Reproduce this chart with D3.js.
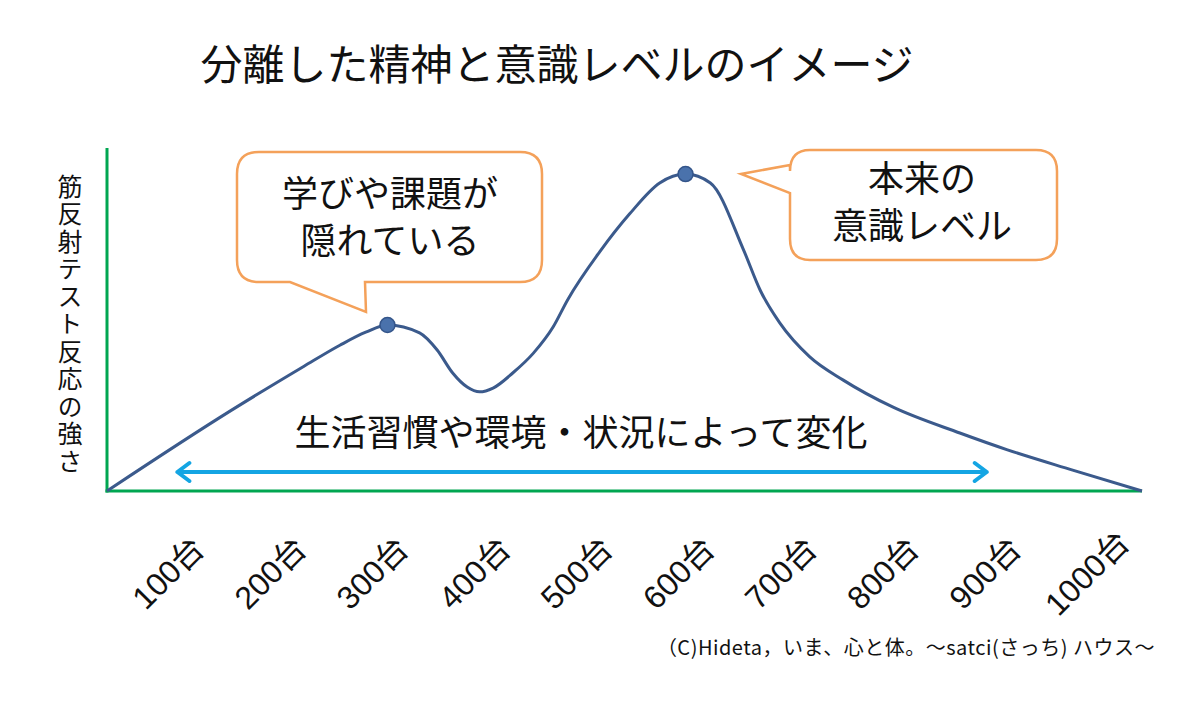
<html>
<head>
<meta charset="utf-8">
<script src="https://d3js.org/d3.v7.min.js"></script>
<style>
body { margin: 0; background: white; }
text { font-family: "Noto Sans CJK JP", "Noto Sans", sans-serif; fill: #111; }
</style>
</head>
<body>
<div id="chart"></div>
<script>

// categories along the bottom
var categories = ["100台","200台","300台","400台","500台","600台","700台","800台","900台","1000台"];

// the curve (x in 0..1000, y in 0..100)
var curveX = [0, 120, 190, 225, 250, 271, 302, 319, 334, 348, 360, 373, 392, 412, 431, 445, 476, 505, 534, 559, 583, 615, 631, 650, 679, 711, 759, 824, 870, 933, 1000];
var curveY = [0, 23.5, 36.3, 42.5, 46.3, 48.4, 46.1, 41.1, 34.4, 30.3, 28.9, 30.0, 34.4, 40.2, 47.8, 55.7, 69.7, 80.8, 89.8, 92.4, 89.8, 70.3, 58.6, 49.0, 39.1, 32.4, 24.5, 16.9, 12.0, 6.1, 0];

// the two marked points
var peakX = [271, 559];
var peakY = [48.4, 92.4];

// span of the double arrow
var arrowSpan = [68, 850];

var W = 1200, H = 711;

var svg = d3.select("#chart")
  .append("svg")
    .attr("width", W)
    .attr("height", H);

var x = d3.scaleLinear()
  .domain([0, 1000])
  .range([107, 1142]);

var y = d3.scaleLinear()
  .domain([0, 100])
  .range([491, 148]);

var xBand = d3.scaleBand()
  .domain(categories)
  .range([125, 1146]);

// title
svg.append("text")
    .attr("x", 557)
    .attr("y", 80)
    .attr("text-anchor", "middle")
    .style("font-size", "42px")
    .text("分離した精神と意識レベルのイメージ");

// y label (vertical)
svg.append("text")
    .attr("x", 70)
    .attr("y", 325)
    .attr("text-anchor", "middle")
    .style("writing-mode", "vertical-rl")
    .style("font-size", "25px")
    .style("letter-spacing", "2.5px")
    .text("筋反射テスト反応の強さ");

// axes (plain green lines)
svg.append("line")
    .attr("x1", x(0)).attr("x2", x(0))
    .attr("y1", y(0) + 1.5).attr("y2", y(100))
    .attr("stroke", "#00a651")
    .attr("stroke-width", 3);

svg.append("line")
    .attr("x1", x(0) - 1.5).attr("x2", x(1000))
    .attr("y1", y(0)).attr("y2", y(0))
    .attr("stroke", "#00a651")
    .attr("stroke-width", 3);

// rotated category labels
svg.append("g")
  .selectAll("text")
  .data(categories)
  .enter()
  .append("text")
    .attr("transform", function(d) {
      return "translate(" + (xBand(d) + xBand.bandwidth() / 2) + ",581) rotate(-45)";
    })
    .attr("text-anchor", "middle")
    .style("font-family", "'Liberation Sans', 'Noto Sans CJK JP', sans-serif")
    .style("font-size", "32px")
    .text(function(d) { return d; });

// the double arrow
var ay = 472;
var a0 = x(arrowSpan[0]), a1 = x(arrowSpan[1]);
svg.append("path")
    .attr("d", "M" + a0 + "," + ay + "H" + a1 +
               "M" + (a0 + 12) + "," + (ay - 9) + "L" + a0 + "," + ay + "L" + (a0 + 12) + "," + (ay + 9) +
               "M" + (a1 - 12) + "," + (ay - 9) + "L" + a1 + "," + ay + "L" + (a1 - 12) + "," + (ay + 9))
    .attr("fill", "none")
    .attr("stroke", "#14a5e3")
    .attr("stroke-width", 4)
    .attr("stroke-linecap", "round")
    .attr("stroke-linejoin", "round");

svg.append("text")
    .attr("x", 581)
    .attr("y", 446)
    .attr("text-anchor", "middle")
    .style("font-size", "36px")
    .text("生活習慣や環境・状況によって変化");

// curve
var pts = curveX.map(function(d, i) { return [d, curveY[i]]; });
var line = d3.line()
  .x(function(d) { return x(d[0]); })
  .y(function(d) { return y(d[1]); })
  .curve(d3.curveMonotoneX);

svg.append("path")
    .datum(pts)
    .attr("d", line)
    .attr("fill", "none")
    .attr("stroke", "#3b5a8c")
    .attr("stroke-width", 3);

svg.append("g")
  .selectAll("circle")
  .data(peakX)
  .enter()
  .append("circle")
    .attr("cx", function(d) { return x(d); })
    .attr("cy", function(d, i) { return y(peakY[i]); })
    .attr("r", 7.5)
    .attr("fill", "#4a72ac")
    .attr("stroke", "#34558a")
    .attr("stroke-width", 1.5);

// callout 1 (tail points down to first peak)
var orange = "#f4a15a";
svg.append("path")
    .attr("d", "M259,152 H520 Q542,152 542,174 V260 Q542,282 520,282 H365 L366,312 L290,282 H259 Q237,282 237,260 V174 Q237,152 259,152 Z")
    .attr("fill", "white")
    .attr("stroke", orange)
    .attr("stroke-width", 2.5);

var c1 = svg.append("text")
    .attr("text-anchor", "middle")
    .style("font-size", "36px");
c1.append("tspan").attr("x", 390).attr("y", 207).text("学びや課題が");
c1.append("tspan").attr("x", 390).attr("y", 254).text("隠れている");

// callout 2 (tail points left to main peak)
svg.append("path")
    .attr("d", "M810,150 H1036 Q1057,150 1057,171 V239 Q1057,260 1036,260 H810 Q790,260 790,239 V193 L741,174 L790,165 V171 Q790,150 810,150 Z")
    .attr("fill", "white")
    .attr("stroke", orange)
    .attr("stroke-width", 2.5);

var c2 = svg.append("text")
    .attr("text-anchor", "middle")
    .style("font-size", "36px");
c2.append("tspan").attr("x", 922).attr("y", 192).text("本来の");
c2.append("tspan").attr("x", 922).attr("y", 239).text("意識レベル");

// credit
svg.append("text")
    .attr("x", 1155)
    .attr("y", 655)
    .attr("text-anchor", "end")
    .style("font-size", "20px")
    .style("letter-spacing", "0.5px")
    .text("（C)Hideta，いま、心と体。～satci(さっち) ハウス～");

</script>
</body>
</html>
